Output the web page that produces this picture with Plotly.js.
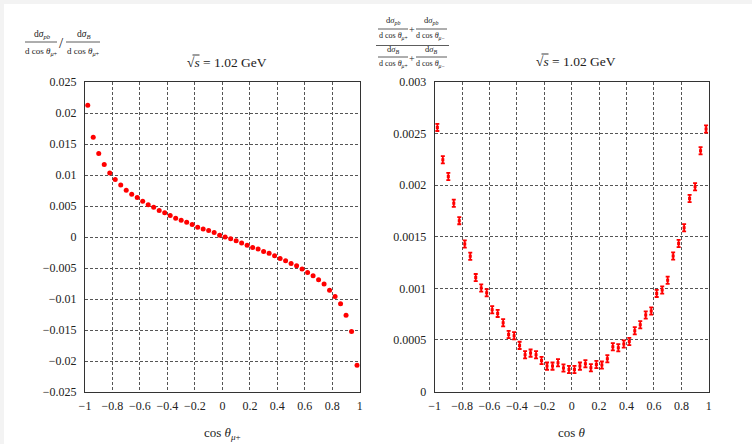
<!DOCTYPE html>
<html>
<head>
<meta charset="utf-8">
<script src="https://cdn.plot.ly/plotly-3.0.1.min.js"></script>
<style>
html,body{margin:0;padding:0;background:#ffffff;}
#chart{width:752px;height:444px;}
</style>
</head>
<body>
<div id="chart"></div>
<script>
// ---- data ----
const cosTheta = [-0.98,-0.94,-0.90,-0.86,-0.82,-0.78,-0.74,-0.70,-0.66,-0.62,
  -0.58,-0.54,-0.50,-0.46,-0.42,-0.38,-0.34,-0.30,-0.26,-0.22,
  -0.18,-0.14,-0.10,-0.06,-0.02,0.02,0.06,0.10,0.14,0.18,
  0.22,0.26,0.30,0.34,0.38,0.42,0.46,0.50,0.54,0.58,
  0.62,0.66,0.70,0.74,0.78,0.82,0.86,0.90,0.94,0.98];

const ratioMuPlus = [0.02125,0.01609,0.01348,0.01168,0.01033,0.00929,0.00837,0.00755,0.00690,0.00636,
  0.00576,0.00522,0.00478,0.00429,0.00391,0.00348,0.00304,0.00272,0.00239,0.00201,
  0.00158,0.00130,0.00103,0.00071,0.00027,0.00000,-0.00027,-0.00062,-0.00095,-0.00132,
  -0.00170,-0.00194,-0.00232,-0.00264,-0.00302,-0.00345,-0.00383,-0.00426,-0.00463,-0.00517,
  -0.00571,-0.00625,-0.00690,-0.00760,-0.00857,-0.00959,-0.01078,-0.01261,-0.01525,-0.02069];

const ratioSum = [0.002560,0.002246,0.002084,0.001824,0.001656,0.001429,0.001311,0.001104,0.001003,0.000958,
  0.000793,0.000757,0.000667,0.000553,0.000540,0.000447,0.000356,0.000372,0.000356,0.000301,
  0.000246,0.000246,0.000278,0.000227,0.000214,0.000214,0.000246,0.000269,0.000230,0.000262,
  0.000256,0.000317,0.000434,0.000424,0.000460,0.000485,0.000589,0.000647,0.000741,0.000780,
  0.000951,0.000984,0.001078,0.001314,0.001435,0.001588,0.001870,0.001984,0.002334,0.002544];

const ratioSumErr = [0.000035,0.000035,0.000035,0.000035,0.000035,0.000035,0.000035,0.000035,0.000035,0.000035,
  0.000035,0.000035,0.000035,0.000035,0.000035,0.000035,0.000035,0.000035,0.000035,0.000035,
  0.000035,0.000035,0.000035,0.000035,0.000035,0.000035,0.000035,0.000035,0.000035,0.000035,
  0.000035,0.000035,0.000035,0.000035,0.000035,0.000035,0.000035,0.000035,0.000035,0.000035,
  0.000035,0.000035,0.000035,0.000035,0.000035,0.000035,0.000035,0.000035,0.000035,0.000035];

const xTickVals = [-1,-0.8,-0.6,-0.4,-0.2,0,0.2,0.4,0.6,0.8,1];
const xTickText = ['\u22121','\u22120.8','\u22120.6','\u22120.4','\u22120.2','0','0.2','0.4','0.6','0.8','1'];
const yLeftVals = [0.025,0.02,0.015,0.01,0.005,0,-0.005,-0.01,-0.015,-0.02,-0.025];
const yLeftText = ['0.025','0.02','0.015','0.01','0.005','0','\u22120.005','\u22120.01','\u22120.015','\u22120.02','\u22120.025'];
const yRightVals = [0,0.0005,0.001,0.0015,0.002,0.0025,0.003];
const yRightText = ['0','0.0005','0.001','0.0015','0.002','0.0025','0.003'];

// ---- styling ----
const SERIF = "'Liberation Serif', 'Times New Roman', serif";
const W = 752, H = 444;
const px = v => v / W;
const py = v => 1 - v / H;

function axisCommon(extra){
  return Object.assign({
    showline:true, mirror:true, linecolor:'#333', linewidth:1,
    showgrid:true, gridcolor:'#555', gridwidth:1, griddash:'3px,2px',
    zeroline:false, ticks:'', tickmode:'array',
    tickfont:{family:SERIF, size:12, color:'#222'},
    fixedrange:true
  }, extra);
}

const traces = [
  {
    x: cosTheta, y: ratioMuPlus, type:'scatter', mode:'markers',
    xaxis:'x', yaxis:'y',
    marker:{color:'#ff0000', size:5},
    showlegend:false, hoverinfo:'skip'
  },
  {
    x: cosTheta, y: ratioSum, type:'scatter', mode:'markers',
    xaxis:'x2', yaxis:'y2',
    marker:{color:'#ff0000', size:3, symbol:'square'},
    error_y:{type:'data', array:ratioSumErr, visible:true, color:'#ff0000', thickness:1.8, width:2},
    showlegend:false, hoverinfo:'skip'
  }
];

const ann = (text, x, y, size, extra) => Object.assign({
  text, xref:'paper', yref:'paper', x:px(x), y:py(y), showarrow:false,
  xanchor:'center', yanchor:'middle', font:{family:SERIF, size:size, color:'#222'}
}, extra||{});

const hline = (x0, x1, y, c, w) => ({
  type:'line', xref:'paper', yref:'paper', x0:px(x0), x1:px(x1), y0:py(y), y1:py(y),
  line:{color:c||'#333', width:w||0.8}
});

const layout = {
  width:W, height:H,
  margin:{l:0, r:0, t:0, b:0},
  paper_bgcolor:'#ffffff', plot_bgcolor:'#ffffff',
  showlegend:false,
  font:{family:SERIF},
  xaxis: axisCommon({domain:[px(85), px(359.8)], range:[-1,1], tickvals:xTickVals, ticktext:xTickText, anchor:'y', ticklabelstandoff:3}),
  yaxis: axisCommon({domain:[py(392), py(82)], range:[-0.025,0.025], tickvals:yLeftVals, ticktext:yLeftText, anchor:'x', ticklabelstandoff:5}),
  xaxis2: axisCommon({domain:[px(434.6), px(708.8)], range:[-1,1], tickvals:xTickVals, ticktext:xTickText, anchor:'y2', ticklabelstandoff:3}),
  yaxis2: axisCommon({domain:[py(391.5), py(82)], range:[0,0.003], tickvals:yRightVals, ticktext:yRightText, anchor:'x2', ticklabelstandoff:5}),
  shapes: [
    // outer light-gray strips
    {type:'rect', xref:'paper', yref:'paper', x0:0, x1:px(4), y0:0, y1:1, fillcolor:'#f3f3f3', line:{width:0}, layer:'below'},
    {type:'rect', xref:'paper', yref:'paper', x0:0, x1:1, y0:py(4), y1:1, fillcolor:'#f3f3f3', line:{width:0}, layer:'below'},
    // left y-title fraction bars
    hline(25, 57, 42),
    hline(66, 100, 42),
    // right y-title fraction bars
    hline(378, 408, 29),
    hline(416, 447, 29),
    hline(376, 449, 45.5),
    hline(378, 408, 57),
    hline(416, 447, 57),
    // overlines of the square roots
    hline(192.5, 199.5, 55, '#222', 0.9),
    hline(541.5, 548.5, 54, '#222', 0.9)
  ],
  annotations: [
    // left y-axis title
    ann('d<i>σ</i><sub><i>pb</i></sub>', 42, 34, 9.5),
    ann('d cos <i>θ</i><sub><i>μ</i>+</sub>', 41, 51, 9),
    ann('/', 61, 43, 15),
    ann('d<i>σ</i><sub><i>B</i></sub>', 84, 34, 9.5),
    ann('d cos <i>θ</i><sub><i>μ</i>+</sub>', 83, 51, 9),
    // left title
    ann('√<i>s</i> = 1.02 GeV', 185, 62, 13.5, {xanchor:'left'}),
    // right y-axis title
    ann('d<i>σ</i><sub><i>pb</i></sub>', 393, 21, 8.5),
    ann('d cos <i>θ</i><sub><i>μ</i>+</sub>', 393, 36, 8),
    ann('+', 412, 30, 10),
    ann('d<i>σ</i><sub><i>pb</i></sub>', 431, 21, 8.5),
    ann('d cos <i>θ</i><sub><i>μ</i>−</sub>', 431, 36, 8),
    ann('d<i>σ</i><sub><i>B</i></sub>', 393, 50, 8.5),
    ann('d cos <i>θ</i><sub><i>μ</i>+</sub>', 393, 64, 8),
    ann('+', 412, 58, 10),
    ann('d<i>σ</i><sub><i>B</i></sub>', 431, 50, 8.5),
    ann('d cos <i>θ</i><sub><i>μ</i>−</sub>', 431, 64, 8),
    // right title
    ann('√<i>s</i> = 1.02 GeV', 534, 61, 13.5, {xanchor:'left'}),
    // x-axis titles
    ann('cos <i>θ</i><sub><i>μ</i>+</sub>', 222, 433, 13),
    ann('cos <i>θ</i>', 571.5, 432, 13)
  ]
};

Plotly.newPlot('chart', traces, layout, {staticPlot:true, displayModeBar:false});
</script>
</body>
</html>
